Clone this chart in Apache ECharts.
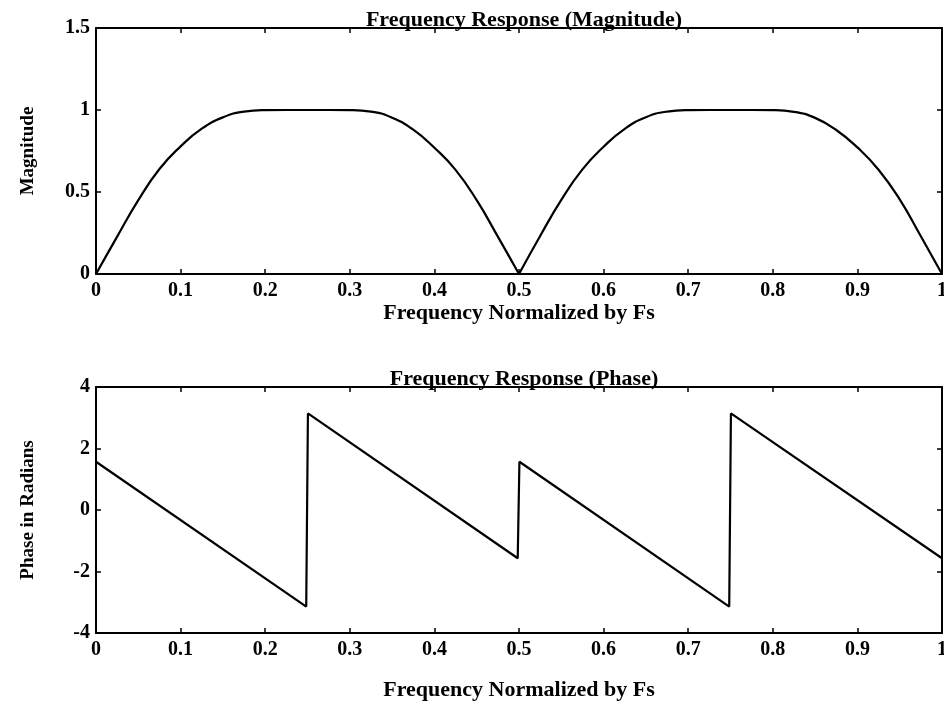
<!DOCTYPE html>
<html>
<head>
<meta charset="utf-8">
<script src="https://cdn.jsdelivr.net/npm/echarts@6/dist/echarts.min.js"></script>
<style>
html,body{margin:0;padding:0;background:#fff;}
#chart{width:944px;height:704px;}
</style>
</head>
<body>
<div id="chart"></div>
<script>
// ---- data ----
var magTitle = 'Frequency Response (Magnitude)';
var phaseTitle = 'Frequency Response (Phase)';
var xName = 'Frequency Normalized by Fs';
var magName = 'Magnitude';
var phaseName = 'Phase in Radians';

var magFreq = [0, 0.025, 0.05, 0.075, 0.1, 0.125, 0.15, 0.175, 0.2, 0.225, 0.25, 0.275, 0.3, 0.325, 0.35, 0.375, 0.4, 0.425, 0.45, 0.475, 0.5,
               0.525, 0.55, 0.575, 0.6, 0.625, 0.65, 0.675, 0.7, 0.725, 0.75, 0.775, 0.8, 0.825, 0.85, 0.875, 0.9, 0.925, 0.95, 0.975, 1];
var magVals = [0, 0.228, 0.45, 0.64, 0.778, 0.886, 0.955, 0.99, 0.999, 1.0, 1.0, 1.0, 0.999, 0.99, 0.953, 0.88, 0.77, 0.635, 0.45, 0.228, 0,
               0.232, 0.452, 0.638, 0.776, 0.885, 0.956, 0.99, 0.999, 1.0, 1.0, 1.0, 0.999, 0.989, 0.952, 0.878, 0.772, 0.636, 0.455, 0.23, 0];

var phaseFreq = [0, 0.2485, 0.2505, 0.4985, 0.5005, 0.7485, 0.7505, 1];
var phaseVals = [1.57, -3.14, 3.14, -1.57, 1.57, -3.14, 3.14, -1.57];

// ---- build ----
function pairs(xs, ys, from, to) {
  var out = [];
  for (var i = from; i <= to; i++) out.push([xs[i], ys[i]]);
  return out;
}
var mid = magFreq.indexOf(0.5);
var lobe1 = pairs(magFreq, magVals, 0, mid);
var lobe2 = pairs(magFreq, magVals, mid, magFreq.length - 1);
var phaseData = pairs(phaseFreq, phaseVals, 0, phaseFreq.length - 1);

var FONT = '"Liberation Serif", "DejaVu Serif", serif';
var black = '#000';

function xAxes(gridIndex, labelMargin, nameGap) {
  return [{
    type: 'value', gridIndex: gridIndex, position: 'bottom', min: 0, max: 1, interval: 0.1,
    axisLine: {show: true, onZero: false, lineStyle: {color: black, width: 2}},
    axisTick: {show: true, inside: true, length: 5, lineStyle: {color: black, width: 1.5}},
    axisLabel: {color: black, fontFamily: FONT, fontSize: 20, fontWeight: 'bold', margin: labelMargin},
    splitLine: {show: false},
    name: xName, nameLocation: 'middle', nameGap: nameGap,
    nameTextStyle: {color: black, fontFamily: FONT, fontSize: 22, fontWeight: 'bold'}
  }, {
    type: 'value', gridIndex: gridIndex, position: 'top', min: 0, max: 1, interval: 0.1,
    axisLine: {show: true, onZero: false, lineStyle: {color: black, width: 2}},
    axisTick: {show: true, inside: true, length: 5, lineStyle: {color: black, width: 1.5}},
    axisLabel: {show: false},
    splitLine: {show: false}
  }];
}
function yAxes(gridIndex, min, max, interval, name) {
  return [{
    type: 'value', gridIndex: gridIndex, position: 'left', min: min, max: max, interval: interval,
    axisLine: {show: true, onZero: false, lineStyle: {color: black, width: 2}},
    axisTick: {show: true, inside: true, length: 5, lineStyle: {color: black, width: 1.5}},
    axisLabel: {color: black, fontFamily: FONT, fontSize: 20, fontWeight: 'bold', margin: 6},
    splitLine: {show: false},
    name: name, nameLocation: 'middle', nameGap: 58, nameRotate: 90,
    nameTextStyle: {color: black, fontFamily: FONT, fontSize: 19, fontWeight: 'bold'}
  }, {
    type: 'value', gridIndex: gridIndex, position: 'right', min: min, max: max, interval: interval,
    axisLine: {show: true, onZero: false, lineStyle: {color: black, width: 2}},
    axisTick: {show: true, inside: true, length: 5, lineStyle: {color: black, width: 1.5}},
    axisLabel: {show: false},
    splitLine: {show: false}
  }];
}

var chart = echarts.init(document.getElementById('chart'), null, {renderer: 'canvas'});
var lineStyle = {color: black, width: 2.2};
chart.setOption({
  animation: false,
  backgroundColor: '#fff',
  title: [
    {text: magTitle, left: 519, top: 4, textAlign: 'center',
     textStyle: {color: black, fontFamily: FONT, fontSize: 22, fontWeight: 'bold'}},
    {text: phaseTitle, left: 519, top: 363, textAlign: 'center',
     textStyle: {color: black, fontFamily: FONT, fontSize: 22, fontWeight: 'bold'}}
  ],
  grid: [
    {left: 96, right: 2, top: 28, height: 246, containLabel: false, outerBoundsMode: 'none'},
    {left: 96, right: 2, top: 387, height: 246, containLabel: false, outerBoundsMode: 'none'}
  ],
  xAxis: xAxes(0, 7, 20).concat(xAxes(1, 7, 46)),
  yAxis: yAxes(0, 0, 1.5, 0.5, magName).concat(yAxes(1, -4, 4, 2, phaseName)),
  series: [
    {type: 'line', xAxisIndex: 0, yAxisIndex: 0, data: lobe1, smooth: 0.5, showSymbol: false, lineStyle: lineStyle},
    {type: 'line', xAxisIndex: 0, yAxisIndex: 0, data: lobe2, smooth: 0.5, showSymbol: false, lineStyle: lineStyle},
    {type: 'line', xAxisIndex: 2, yAxisIndex: 2, data: phaseData, showSymbol: false, lineStyle: lineStyle}
  ]
});
</script>
</body>
</html>
